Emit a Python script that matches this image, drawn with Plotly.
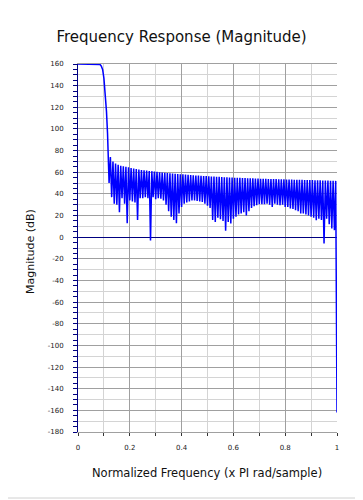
import plotly.graph_objects as go

# ---- data ----
pass_freq = [0.0, 0.08, 0.085, 0.09, 0.095, 0.1, 0.105, 0.11, 0.114, 0.117]
pass_db = [160, 160, 159.6, 158, 155, 147, 132, 116, 96, 80]

# stopband lobes: null (trough) at 0.12, 0.13, ... 0.99 ; lobe peak midway
trough_db = [50, 37, 31, 30, 23, 36, 31, 13, 34, 33,
             32, 16, 36, 36, 37, 36, -3, 37, 35, 36,
             35.5, 34, 30, 24, 19, 16, 13, 22, 28, 31,
             32, 33, 34, 34, 33.5, 33, 32.5, 31, 29, 27,
             16, 14, 18, 16.5, 15, 6, 14, 12.6, 17, 19,
             21, 22, 23, 20, 24, 27, 28.5, 29.6, 30.5, 30.5,
             30.5, 31, 30, 28, 31, 30, 29.6, 30, 28, 28,
             26.5, 26, 25, 24, 22, 22, 21, 20, 19, 18,
             15.7, 17, 16, -5.8, 17, 12, 8, 6.5]
peak_db = [74, 70, 68, 67, 66, 65.5, 65, 64.5, 64, 63.5,
           63, 62.5, 62, 61.8, 61.5, 61.2, 61, 60.6, 60.3, 60,
           59.8, 59.6, 59.3, 59, 58.8, 58.6, 58.4, 58.2, 58, 57.8,
           57.6, 57.4, 57.2, 57, 56.9, 56.7, 56.6, 56.4, 56.3, 56.1,
           56, 55.8, 55.7, 55.5, 55.4, 55.3, 55.2, 55.1, 55, 54.9,
           54.8, 54.7, 54.6, 54.5, 54.4, 54.3, 54.2, 54.1, 54, 53.9,
           53.9, 53.8, 53.7, 53.7, 53.6, 53.5, 53.5, 53.4, 53.3, 53.3,
           53.2, 53.1, 53.1, 53, 53, 52.9, 52.8, 52.8, 52.7, 52.6,
           52.6, 52.5, 52.4, 52.4, 52.3, 52.2, 52.1, 52]
trough_freq = [round(0.12 + 0.01 * i, 3) for i in range(len(trough_db))]
peak_freq = [round(0.125 + 0.01 * i, 3) for i in range(len(peak_db))]
end_freq = [1.0]
end_db = [-162]

y_tickvals = list(range(-180, 161, 20))
y_ticktext = [str(v) for v in y_tickvals]
x_tickvals = [0, 0.2, 0.4, 0.6, 0.8, 1]
x_ticktext = ["0", "0.2", "0.4", "0.6", "0.8", "1"]

# ---- assemble the response curve ----
freq = list(pass_freq)
mag = list(pass_db)
for tf, td, pf, pd_ in zip(trough_freq, trough_db, peak_freq, peak_db):
    freq += [tf, pf]
    mag += [td, pd_]
freq += end_freq
mag += end_db

DARK_GRID = "#a0a0a0"
LIGHT_GRID = "#d4d4d4"
NAVY = "#000080"
FONT = "DejaVu Sans"

# page has an 8px body margin; figure placed at (8, 8)
OFF = 8
W, H = 363 - OFF, 500 - OFF
PL, PR, PT, PB = 78, 337, 64, 432   # plot area in page pixels
PW, PH = PR - PL, PB - PT

fig = go.Figure()
fig.add_trace(go.Scatter(x=freq, y=mag, mode="lines",
                         line=dict(color="#0000ff", width=1.5),
                         hoverinfo="skip", showlegend=False))
# dummy trace for the 5-dB minor tick axis
fig.add_trace(go.Scatter(x=[None], y=[None], yaxis="y2", showlegend=False,
                         hoverinfo="skip"))

fig.update_layout(
    width=W, height=H,
    margin=dict(l=PL - OFF, r=W - (PR - OFF), t=PT - OFF, b=H - (PB - OFF),
                autoexpand=False),
    paper_bgcolor="white", plot_bgcolor="white",
    font=dict(family=FONT, color="#222222"),
    title=dict(text="Frequency Response (Magnitude)",
               x=(181.5 - OFF) / W, xref="container", xanchor="center",
               y=1 - (37 - OFF) / H, yref="container", yanchor="middle",
               font=dict(family=FONT, size=15, color="#111111")),
    xaxis=dict(range=[0, 1], tickvals=x_tickvals, ticktext=x_ticktext,
               showgrid=True, gridcolor=DARK_GRID, gridwidth=1,
               ticks="outside", ticklen=3, tickcolor="#333333",
               tickfont=dict(size=7, color="#222222"), ticklabelstandoff=6,
               minor=dict(dtick=0.1, showgrid=True, gridcolor=LIGHT_GRID,
                          ticks="outside", ticklen=3, tickcolor="#333333"),
               showline=True, linecolor=DARK_GRID, mirror=True,
               zeroline=False, fixedrange=True),
    yaxis=dict(range=[-180, 160], tickvals=y_tickvals, ticktext=y_ticktext,
               showgrid=True, gridcolor=DARK_GRID, gridwidth=1,
               ticks="", tickfont=dict(size=7, color="#222222"),
               ticklabelstandoff=12,
               minor=dict(tickvals=list(range(-170, 160, 20)), showgrid=True,
                          gridcolor=LIGHT_GRID, ticks=""),
               showline=True, linecolor=NAVY, linewidth=1,
               zeroline=True, zerolinecolor=NAVY, zerolinewidth=1,
               fixedrange=True),
    yaxis2=dict(range=[-180, 160], overlaying="y", side="left",
                dtick=5, tick0=0, ticks="outside", ticklen=4, tickcolor=NAVY,
                showticklabels=False, showgrid=False, zeroline=False,
                showline=False, fixedrange=True),
    annotations=[
        dict(text="Normalized Frequency (x PI rad/sample)", xref="paper",
             yref="paper", x=(207 - PL) / PW, y=-(473 - PB) / PH,
             xanchor="center", yanchor="middle",
             showarrow=False, font=dict(family=FONT, size=11.5, color="#111111")),
        dict(text="Magnitude (dB)", xref="paper", yref="paper",
             x=-(PL - 30) / PW, y=0.5 - (252 - (PT + PB) / 2) / PH,
             textangle=-90, xanchor="center", yanchor="middle",
             showarrow=False,
             font=dict(family=FONT, size=11, color="#111111")),
    ],
    shapes=[
        dict(type="line", xref="paper", yref="paper",
             x0=(361.5 - PL) / PW, x1=(361.5 - PL) / PW,
             y0=-(498 - PB) / PH, y1=1 + (PT - OFF) / PH,
             line=dict(color="#d0d0d0", width=1)),
        dict(type="line", xref="paper", yref="paper",
             x0=-(PL - OFF) / PW, x1=(361.5 - PL) / PW,
             y0=-(498 - PB) / PH, y1=-(498 - PB) / PH,
             line=dict(color="#d0d0d0", width=1)),
    ],
)

fig.write_html("out.html")
